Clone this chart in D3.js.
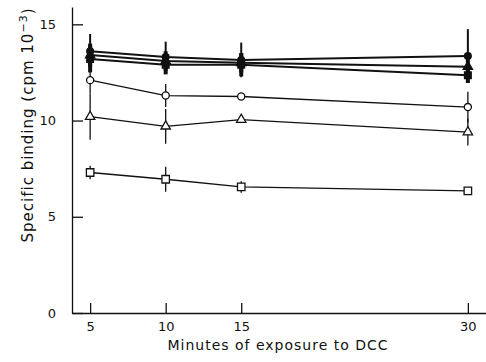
<!DOCTYPE html>
<html>
<head>
<meta charset="utf-8">
<script src="https://cdn.jsdelivr.net/npm/d3@7"></script>
<style>
	body { margin: 0; background: #fff; }
	svg text { font-family: "DejaVu Sans", sans-serif; fill: #111; }
</style>
</head>
<body>
<svg id="chart" width="486" height="362"></svg>
<script>
// Data
var minutes = [5, 10, 15, 30];
var xTicks = [5, 10, 15, 30];
var yTicks = [0, 5, 10, 15];

var filledCircle = [13.6, 13.3, 13.15, 13.35];
var filledCircleErr = [0.9, 0.8, 0.9, 1.4];
var filledTriangle = [13.4, 13.1, 13.0, 12.8];
var filledTriangleErr = [0.6, 0.5, 0.5, 0.5];
var filledSquare = [13.2, 12.9, 12.9, 12.35];
var filledSquareErr = [0.7, 0.5, 0.6, 0.4];
var openCircle = [12.1, 11.3, 11.25, 10.7];
var openCircleErr = [0.7, 0.6, 0.1, 0.8];
var openTriangle = [10.2, 9.7, 10.05, 9.4];
var openTriangleErr = [1.2, 0.9, 0.1, 0.7];
var openSquare = [7.3, 6.95, 6.55, 6.35];
var openSquareErr = [0.35, 0.65, 0.3, 0];

var svg = d3.select('#chart');
var x = d3.scaleLinear().domain([3.8, 31.2]).range([72, 486]);
var y = d3.scaleLinear().domain([0, 15.9]).range([313, 7]);

// axes
var xAxis = d3.axisBottom(x).tickValues(xTicks).tickSizeInner(-10).tickSizeOuter(0).tickPadding(9);
var yAxis = d3.axisLeft(y).tickValues(yTicks).tickSizeInner(-11).tickSizeOuter(0).tickPadding(16);

var gx = svg.append('g').attr('transform', 'translate(0,' + y(0) + ')').call(xAxis);
var gy = svg.append('g').attr('transform', 'translate(' + x(3.8) + ',0)').call(yAxis);
[gx, gy].forEach(function(g){
	g.select('.domain').attr('stroke', '#111').attr('stroke-width', 1.3);
	g.selectAll('.tick line').attr('stroke', '#111').attr('stroke-width', 1.3);
	g.selectAll('.tick text').attr('font-size', 13).style('font-family', '"DejaVu Sans", sans-serif').attr('fill', '#111');
});

svg.append('text')
	.attr('x', 278).attr('y', 350)
	.attr('text-anchor', 'middle')
	.attr('font-size', 14)
	.attr('letter-spacing', 1)
	.text('Minutes of exposure to DCC');

var yl = svg.append('text')
	.attr('transform', 'translate(33,125) rotate(-90)')
	.attr('text-anchor', 'middle')
	.attr('font-size', 15)
	.attr('letter-spacing', 1);
yl.append('tspan').text('Specific binding (cpm 10');
yl.append('tspan').attr('dy', -6).attr('font-size', 11).text('\u22123');
yl.append('tspan').attr('dy', 6).text(')');

// series
var series = [
	{ v: openSquare, e: openSquareErr, sym: d3.symbolSquare, size: 56, fill: '#fff', lw: 1.3 },
	{ v: openTriangle, e: openTriangleErr, sym: d3.symbolTriangle, size: 38, fill: '#fff', lw: 1.3 },
	{ v: openCircle, e: openCircleErr, sym: d3.symbolCircle, size: 40, fill: '#fff', lw: 1.3 },
	{ v: filledSquare, e: filledSquareErr, sym: d3.symbolSquare, size: 45, fill: '#111', lw: 2, ew: 4 },
	{ v: filledTriangle, e: filledTriangleErr, sym: d3.symbolTriangle, size: 38, fill: '#111', lw: 2, ew: 4 },
	{ v: filledCircle, e: filledCircleErr, sym: d3.symbolCircle, size: 36, fill: '#111', lw: 2, ew: 2 }
];

var line = d3.line()
	.x(function(d, i){ return x(minutes[i]); })
	.y(function(d){ return y(d); });

series.forEach(function(s){
	var g = svg.append('g');
	g.append('path')
		.attr('d', line(s.v))
		.attr('fill', 'none')
		.attr('stroke', '#111')
		.attr('stroke-width', s.lw);
	g.selectAll('line.err')
		.data(s.v)
		.enter().append('line')
		.attr('class', 'err')
		.attr('x1', function(d, i){ return x(minutes[i]); })
		.attr('x2', function(d, i){ return x(minutes[i]); })
		.attr('y1', function(d, i){ return y(d + s.e[i]); })
		.attr('y2', function(d, i){ return y(d - s.e[i]); })
		.attr('stroke', '#111')
		.attr('stroke-width', s.ew || 1.3);
	g.selectAll('path.pt')
		.data(s.v)
		.enter().append('path')
		.attr('class', 'pt')
		.attr('d', d3.symbol().type(s.sym).size(s.size))
		.attr('transform', function(d, i){ return 'translate(' + x(minutes[i]) + ',' + y(d) + ')'; })
		.attr('fill', s.fill)
		.attr('stroke', '#111')
		.attr('stroke-width', 1.3);
});
</script>
</body>
</html>
